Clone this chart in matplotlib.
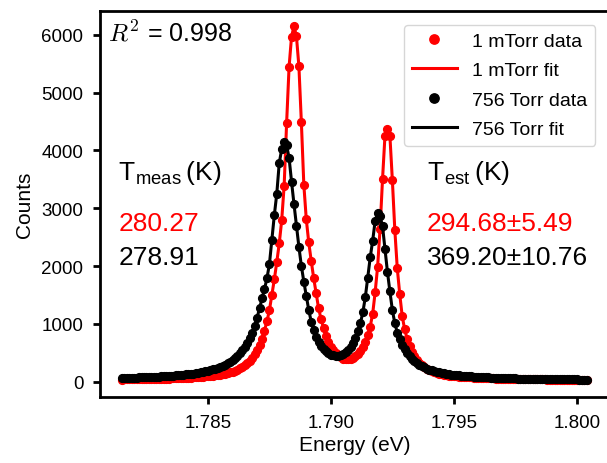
import matplotlib
matplotlib.use("Agg")
import matplotlib.pyplot as plt
import numpy as np

plt.rcParams["font.family"] = ["Liberation Sans", "DejaVu Sans"]
plt.rcParams["mathtext.fontset"] = "cm"

# energy grid of the spectrometer (eV)
energy_start = 1.7815
energy_step = 0.0001
n_points = 190

# 1 mTorr spectrum (counts)
counts_1mtorr = [
    37, 38, 38, 39, 40, 41, 42, 42, 43, 43,
    44, 46, 46, 47, 48, 49, 50, 53, 54, 55,
    56, 58, 60, 62, 63, 65, 67, 70, 72, 75,
    77, 81, 84, 87, 91, 96, 100, 105, 110, 117,
    123, 132, 141, 151, 163, 176, 191, 209, 229, 254,
    282, 319, 361, 412, 472, 543, 633, 744, 884, 1045,
    1236, 1497, 1768, 2069, 2390, 2791, 3392, 4473, 5444, 5966,
    6148, 5970, 5451, 4483, 3405, 2807, 2409, 2091, 1794, 1527,
    1270, 1084, 929, 794, 689, 606, 543, 492, 452, 422,
    401, 391, 390, 397, 415, 440, 477, 526, 596, 687,
    799, 953, 1177, 1547, 1987, 2643, 3499, 4255, 4372, 4249,
    3486, 2624, 1961, 1514, 1137, 905, 743, 622, 520, 439,
    377, 326, 285, 249, 220, 196, 177, 161, 148, 138,
    128, 120, 113, 107, 102, 96, 91, 88, 84, 81,
    78, 76, 73, 71, 68, 67, 65, 62, 60, 59,
    57, 56, 55, 53, 52, 51, 50, 48, 47, 47,
    46, 45, 44, 44, 43, 43, 41, 41, 40, 40,
    39, 39, 38, 37, 37, 37, 36, 36, 34, 34,
    34, 34, 33, 33, 33, 33, 31, 31, 31, 31,
]

# 756 Torr spectrum (counts)
counts_756torr = [
    64, 65, 66, 68, 69, 70, 72, 73, 75, 76,
    78, 80, 82, 84, 86, 88, 91, 93, 96, 99,
    102, 105, 108, 112, 116, 120, 125, 130, 135, 141,
    147, 154, 162, 170, 179, 189, 200, 212, 225, 239,
    255, 273, 293, 316, 342, 372, 405, 445, 490, 540,
    600, 670, 750, 850, 970, 1110, 1270, 1440, 1600, 1790,
    2030, 2450, 2880, 3250, 3780, 4020, 4150, 4090, 3870, 3460,
    3070, 2700, 2330, 2000, 1730, 1480, 1240, 1040, 890, 780,
    695, 625, 568, 524, 490, 470, 455, 450, 452, 462,
    480, 505, 545, 600, 670, 760, 870, 1010, 1200, 1460,
    1800, 2150, 2440, 2780, 2910, 2860, 2690, 2300, 1900, 1560,
    1240, 1010, 850, 730, 635, 560, 495, 440, 395, 355,
    322, 293, 268, 246, 227, 210, 195, 182, 170, 160,
    151, 143, 136, 129, 123, 118, 113, 108, 104, 100,
    96, 93, 90, 87, 84, 82, 79, 77, 75, 73,
    71, 69, 67, 66, 64, 63, 61, 60, 59, 57,
    56, 55, 54, 53, 52, 51, 50, 49, 48, 48,
    47, 46, 45, 45, 44, 43, 43, 42, 41, 41,
    40, 40, 39, 39, 38, 38, 37, 37, 36, 36,
]

xticks = [1.785, 1.790, 1.795, 1.800]
yticks = [0, 1000, 2000, 3000, 4000, 5000, 6000]

r_squared = "0.998"
t_meas = ["280.27", "278.91"]
t_est = ["294.68\u00b15.49", "369.20\u00b110.76"]

energy = energy_start + energy_step * np.arange(n_points)

fig = plt.figure(figsize=(6.07, 4.64), dpi=100)
ax = fig.add_axes([0.1647, 0.1422, 0.8386, 0.8319])

ax.plot(energy, counts_1mtorr, "o", color="red", ms=5.6, ls="none", label="1 mTorr data")
ax.plot(energy, counts_1mtorr, "-", color="red", lw=2.2, label="1 mTorr fit")
ax.plot(energy, counts_756torr, "o", color="black", ms=5.6, ls="none", label="756 Torr data")
ax.plot(energy, counts_756torr, "-", color="black", lw=2.2, label="756 Torr fit")

ax.set_xlim(1.78061, 1.80131)
ax.set_ylim(-265, 6410)
ax.set_xticks(xticks)
ax.set_xticklabels([f"{t:.3f}" for t in xticks])
ax.set_yticks(yticks)
ax.tick_params(direction="out", length=5, width=2, labelsize=13.5, pad=7)
for s in ax.spines.values():
    s.set_linewidth(2)

ax.set_xlabel("Energy (eV)", fontsize=15, labelpad=3)
ax.set_ylabel("Counts", fontsize=15, labelpad=5)

ax.legend(loc="upper right", fontsize=14, handlelength=2.3, framealpha=0.8,
          edgecolor="#cccccc", labelspacing=0.6, borderaxespad=0.7, markerscale=1.2)

tx = ax.transAxes
ax.text(0.016, 0.945, "$R^2$ = " + r_squared, fontsize=18, transform=tx, va="center")
ax.text(0.036, 0.582, "T$_{\\mathregular{meas}}\\,$(K)", fontsize=19, transform=tx, va="center")
ax.text(0.036, 0.45, t_meas[0], fontsize=19, color="red", transform=tx, va="center")
ax.text(0.036, 0.363, t_meas[1], fontsize=19, color="black", transform=tx, va="center")
ax.text(0.642, 0.582, "T$_{\\mathregular{est}}\\,$(K)", fontsize=19, transform=tx, va="center")
ax.text(0.642, 0.45, t_est[0], fontsize=19, color="red", transform=tx, va="center")
ax.text(0.642, 0.363, t_est[1], fontsize=19, color="black", transform=tx, va="center")

fig.savefig("out.png", dpi=100)
